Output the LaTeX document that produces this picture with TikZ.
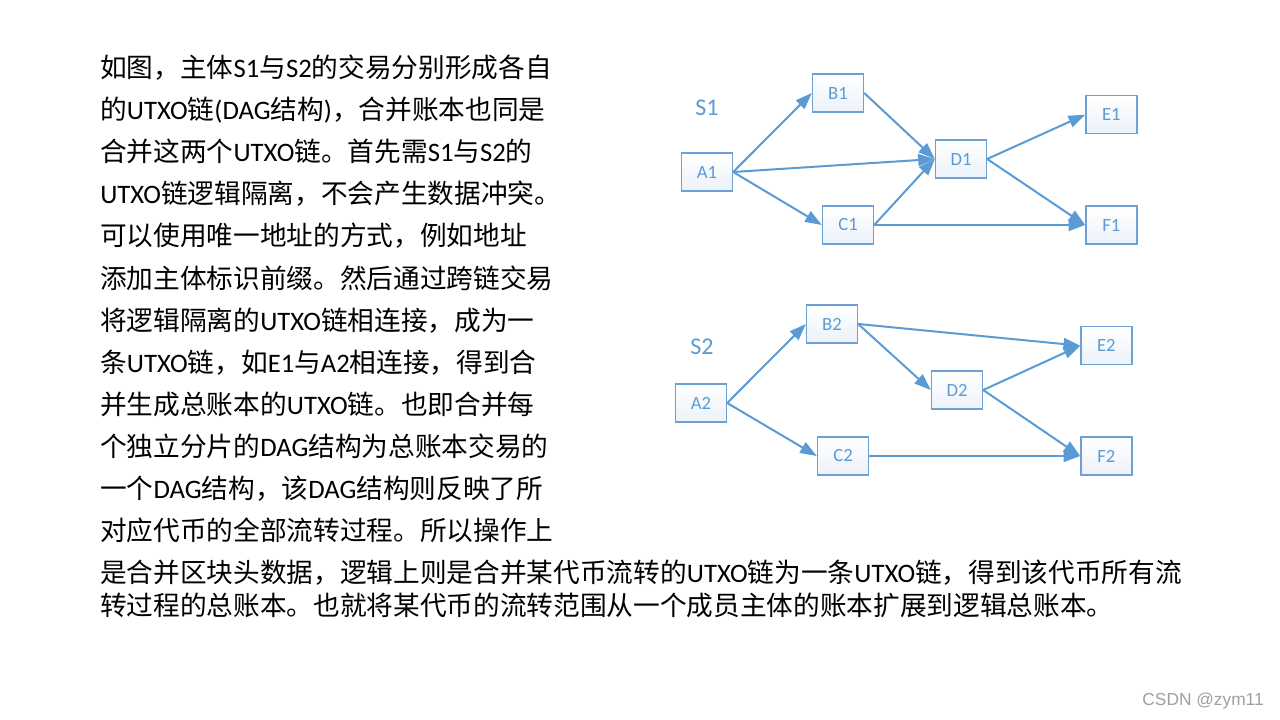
\documentclass[tikz,border=0pt]{standalone}
\usepackage{fontspec}
\setmainfont{Noto Sans CJK SC}
\newfontfamily\latf{Carlito}
\newfontfamily\wmfont{Liberation Sans}
\usetikzlibrary{
  arrows.meta,
  positioning
}
\definecolor{cblue}{RGB}{91,155,213}
\definecolor{cbord}{RGB}{110,160,214}
\definecolor{lblue}{RGB}{236,242,250}
\definecolor{cgray}{RGB}{160,160,160}
\newcommand\la[1]{{\latf #1}}
\tikzset{
  tx/.style={
    rectangle, draw=cbord, line width=1pt,
    top color=white, bottom color=lblue,
    minimum width=38.25pt, minimum height=28.5pt, inner sep=0pt,
    font=\latf\fontsize{14pt}{16pt}\selectfont, text=cblue
  },
  grp/.style={
    inner sep=0pt, text=cblue,
    font=\latf\fontsize{18pt}{20pt}\selectfont
  },
  para/.style={
    anchor=base west, inner sep=0pt,
    font=\fontsize{20pt}{24pt}\selectfont
  },
  arr/.style={-{Triangle[length=12.5pt,width=9pt]}, line width=1.5pt, draw=cblue}
}

\begin{document}
\begin{tikzpicture}[x=0.75pt, y=-0.75pt]

    \path[fill=white, use as bounding box] (0,0) rectangle (1280,720);

    %% ---- text on the left ----------------------------------------
    \node[para] (l1)  at (100,78)  {如图，主体\la{S1}与\la{S2}的交易分别形成各自};
    \node[para] (l2)  at (100,120) {的\la{UTXO}链\la{(DAG}结构\la{)}，合并账本也同是};
    \node[para] (l3)  at (100,162) {合并这两个\la{UTXO}链。首先需\la{S1}与\la{S2}的};
    \node[para] (l4)  at (100,204) {\la{UTXO}链逻辑隔离，不会产生数据冲突。};
    \node[para] (l5)  at (100,246) {可以使用唯一地址的方式，例如地址};
    \node[para] (l6)  at (100,288) {添加主体标识前缀。然后通过跨链交易};
    \node[para] (l7)  at (100,330) {将逻辑隔离的\la{UTXO}链相连接，成为一};
    \node[para] (l8)  at (100,372) {条\la{UTXO}链，如\la{E1}与\la{A2}相连接，得到合};
    \node[para] (l9)  at (100,414) {并生成总账本的\la{UTXO}链。也即合并每};
    \node[para] (l10) at (100,456) {个独立分片的\la{DAG}结构为总账本交易的};
    \node[para] (l11) at (100,498) {一个\la{DAG}结构，该\la{DAG}结构则反映了所};
    \node[para] (l12) at (100,540) {对应代币的全部流转过程。所以操作上};
    \node[para] (l13) at (100,582) {是合并区块头数据，逻辑上则是合并某代币流转的\la{UTXO}链为一条\la{UTXO}链，得到该代币所有流};
    \node[para] (l14) at (100,615) {转过程的总账本。也就将某代币的流转范围从一个成员主体的账本扩展到逻辑总账本。};

    %% ---- S1 -------------------------------------------------------
    \node[grp] (s1) at (707,108) {S1};
    \node[tx] (a1) at (707,172) {A1};
    \node[tx] (b1) at (838,93)  {B1};
    \node[tx] (c1) at (848,225) {C1};
    \node[tx] (d1) at (961,159) {D1};
    \node[tx, right=158.25pt of c1] (f1) {F1};
    \node[tx, above=53.25pt of f1]  (e1) {E1};

    \draw[arr] (a1.east)--(b1.west);
    \draw[arr] (a1.east)--(d1.west);
    \draw[arr] (a1.east)--(c1.west);
    \draw[arr] (b1.east)--(d1.west);
    \draw[arr] (c1.east)--(d1.west);
    \draw[arr] (c1.east)--(f1.west);
    \draw[arr] (d1.east)--(e1.west);
    \draw[arr] (d1.east)--(f1.west);

    %% ---- S2 -------------------------------------------------------
    \node[grp] (s2) at (702,347) {S2};
    \node[tx] (a2) at (701,403) {A2};
    \node[tx] (b2) at (832,324) {B2};
    \node[tx] (c2) at (843,456) {C2};
    \node[tx] (d2) at (957,390) {D2};
    \node[tx, right=158.25pt of c2] (f2) {F2};
    \node[tx, above=53.25pt of f2]  (e2) {E2};

    \draw[arr] (a2.east)--(b2.west);
    \draw[arr] (a2.east)--(c2.west);
    \draw[arr] (b2.east)--(d2.west);
    \draw[arr] (b2.east)--(e2.west);
    \draw[arr] (c2.east)--(f2.west);
    \draw[arr] (d2.east)--(e2.west);
    \draw[arr] (d2.east)--(f2.west);

    %% ---- watermark ------------------------------------------------
    \node[anchor=base east, inner sep=0pt, text=cgray,
          font=\wmfont\fontsize{13pt}{15pt}\selectfont]
      (wm) at (1264,705) {CSDN @zym11};

\end{tikzpicture}
\end{document}
